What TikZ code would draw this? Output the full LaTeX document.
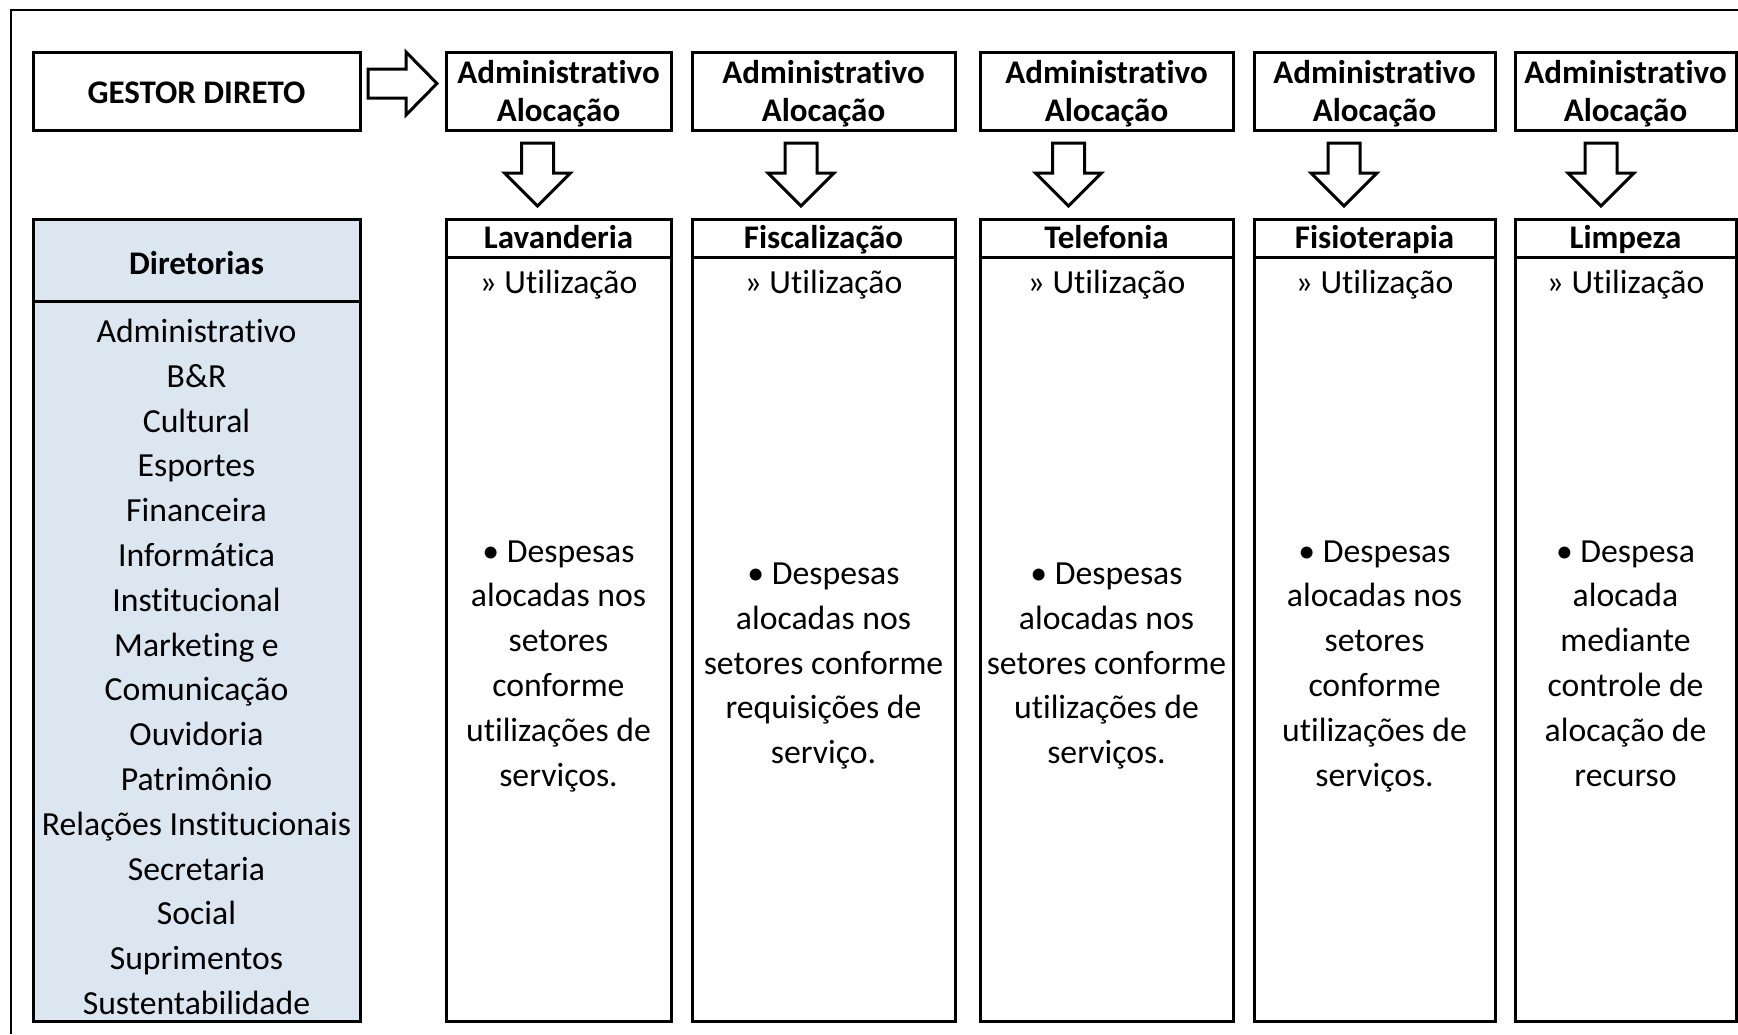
\documentclass[tikz,border=0pt]{standalone}
\usepackage{fontspec}
\setmainfont{Carlito}[Ligatures=NoCommon]
\definecolor{dirblue}{HTML}{DCE6F1}
\begin{document}
\begin{tikzpicture}[x=0.5pt,y=-0.5pt,
  boxline/.style={line width=1.5pt},
  cell/.style={draw, boxline, inner sep=0pt},
  hdr/.style={font=\fontsize{16.5}{19}\selectfont\bfseries, align=center, inner sep=0pt},
  titletxt/.style={font=\fontsize{16.5}{19}\selectfont\bfseries, inner sep=0pt, anchor=base},
  linetxt/.style={font=\fontsize{16.85}{22.4}\selectfont, inner sep=0pt, anchor=base},
  txt/.style={font=\fontsize{16.85}{22.4}\selectfont, align=center, inner sep=0pt,
    execute at begin node=\strut, execute at end node=\strut},
  blk/.style={draw, line width=1.5pt, line join=miter, fill=white},
]
\useasboundingbox (0,0) rectangle (1738,1034);
% outer frame
\draw[line width=1.2pt] (11,1034) -- (11,10) -- (1738,10);

% top row boxes
\node[cell, minimum width=163.5pt, minimum height=39pt] (gestor) at (196.5,91) {};
\node[cell, minimum width=112.5pt, minimum height=39pt] (adm1) at (558.5,91) {};
\node[cell, minimum width=131.5pt, minimum height=39pt] (adm2) at (823.5,91) {};
\node[cell, minimum width=126.5pt, minimum height=39pt] (adm3) at (1106.5,91) {};
\node[cell, minimum width=120.5pt, minimum height=39pt] (adm4) at (1374.5,91) {};
\node[cell, minimum width=110.5pt, minimum height=39pt] (adm5) at (1625.5,91) {};

\node[hdr] (gestort) at (196.5,93) {GESTOR DIRETO};
\node[hdr] (admt1) at (558.5,94) {Administrativo\\Alocação};
\node[hdr] (admt2) at (823.5,94) {Administrativo\\Alocação};
\node[hdr] (admt3) at (1106.5,94) {Administrativo\\Alocação};
\node[hdr] (admt4) at (1374.5,94) {Administrativo\\Alocação};
\node[hdr] (admt5) at (1625.5,94) {Administrativo\\Alocação};

% right block arrow
\coordinate (ra) at (368,69);
\draw[blk] (ra) -- ++(38,0) -- ++(0,-17) -- ++(31,31.5) -- ++(-31,31.5) -- ++(0,-17) -- ++(-38,0) -- cycle;

% down block arrows
\foreach \n/\x in {1/537.5, 2/801, 3/1068.5, 4/1344, 5/1601}{
  \coordinate (da\n) at (\x,143);
  \draw[blk] (da\n) ++(-16,0) -- ++(32,0) -- ++(0,30) -- ++(17,0) -- ++(-33,33) -- ++(-33,-33) -- ++(17,0) -- cycle;
}

% Diretorias
\node[cell, fill=dirblue, minimum width=163.5pt, minimum height=401pt] (dir) at (196.5,620) {};
\draw[boxline] (dir.west |- 0,301) -- (dir.east |- 0,301);
\node[titletxt] (dirt) at (196.5,274) {Diretorias};
\node[txt] (dirl) at (196.5,673.5) {Administrativo\\B\&R\\Cultural\\Esportes\\Financeira\\Informática\\Institucional\\Marketing e\\Comunicação\\Ouvidoria\\Patrimônio\\Relações Institucionais\\Secretaria\\Social\\Suprimentos\\Sustentabilidade};

% lower boxes
\node[cell, minimum width=112.5pt, minimum height=401pt] (low1) at (558.5,620) {};
\node[cell, minimum width=131.5pt, minimum height=401pt] (low2) at (823.5,620) {};
\node[cell, minimum width=126.5pt, minimum height=401pt] (low3) at (1106.5,620) {};
\node[cell, minimum width=120.5pt, minimum height=401pt] (low4) at (1374.5,620) {};
\node[cell, minimum width=110.5pt, minimum height=401pt] (low5) at (1625.5,620) {};
\foreach \i in {1,...,5}{
  \draw[boxline] (low\i.west |- 0,257) -- (low\i.east |- 0,257);
}

\node[titletxt] (t1) at (558.5,248) {Lavanderia};
\node[titletxt] (t2) at (823.5,248) {Fiscalização};
\node[titletxt] (t3) at (1106.5,248) {Telefonia};
\node[titletxt] (t4) at (1374.5,248) {Fisioterapia};
\node[titletxt] (t5) at (1625.5,248) {Limpeza};

\node[linetxt] (u1) at (558.5,293) {» Utilização};
\node[linetxt] (u2) at (823.5,293) {» Utilização};
\node[linetxt] (u3) at (1106.5,293) {» Utilização};
\node[linetxt] (u4) at (1374.5,293) {» Utilização};
\node[linetxt] (u5) at (1625.5,293) {» Utilização};

\node[txt] (b1) at (558.5,670) {• Despesas\\alocadas nos\\setores\\conforme\\utilizações de\\serviços.};
\node[txt] (b2) at (823.5,670) {• Despesas\\alocadas nos\\setores conforme\\requisições de\\serviço.};
\node[txt] (b3) at (1106.5,670) {• Despesas\\alocadas nos\\setores conforme\\utilizações de\\serviços.};
\node[txt] (b4) at (1374.5,670) {• Despesas\\alocadas nos\\setores\\conforme\\utilizações de\\serviços.};
\node[txt] (b5) at (1625.5,670) {• Despesa\\alocada\\mediante\\controle de\\alocação de\\recurso};
\end{tikzpicture}
\end{document}
